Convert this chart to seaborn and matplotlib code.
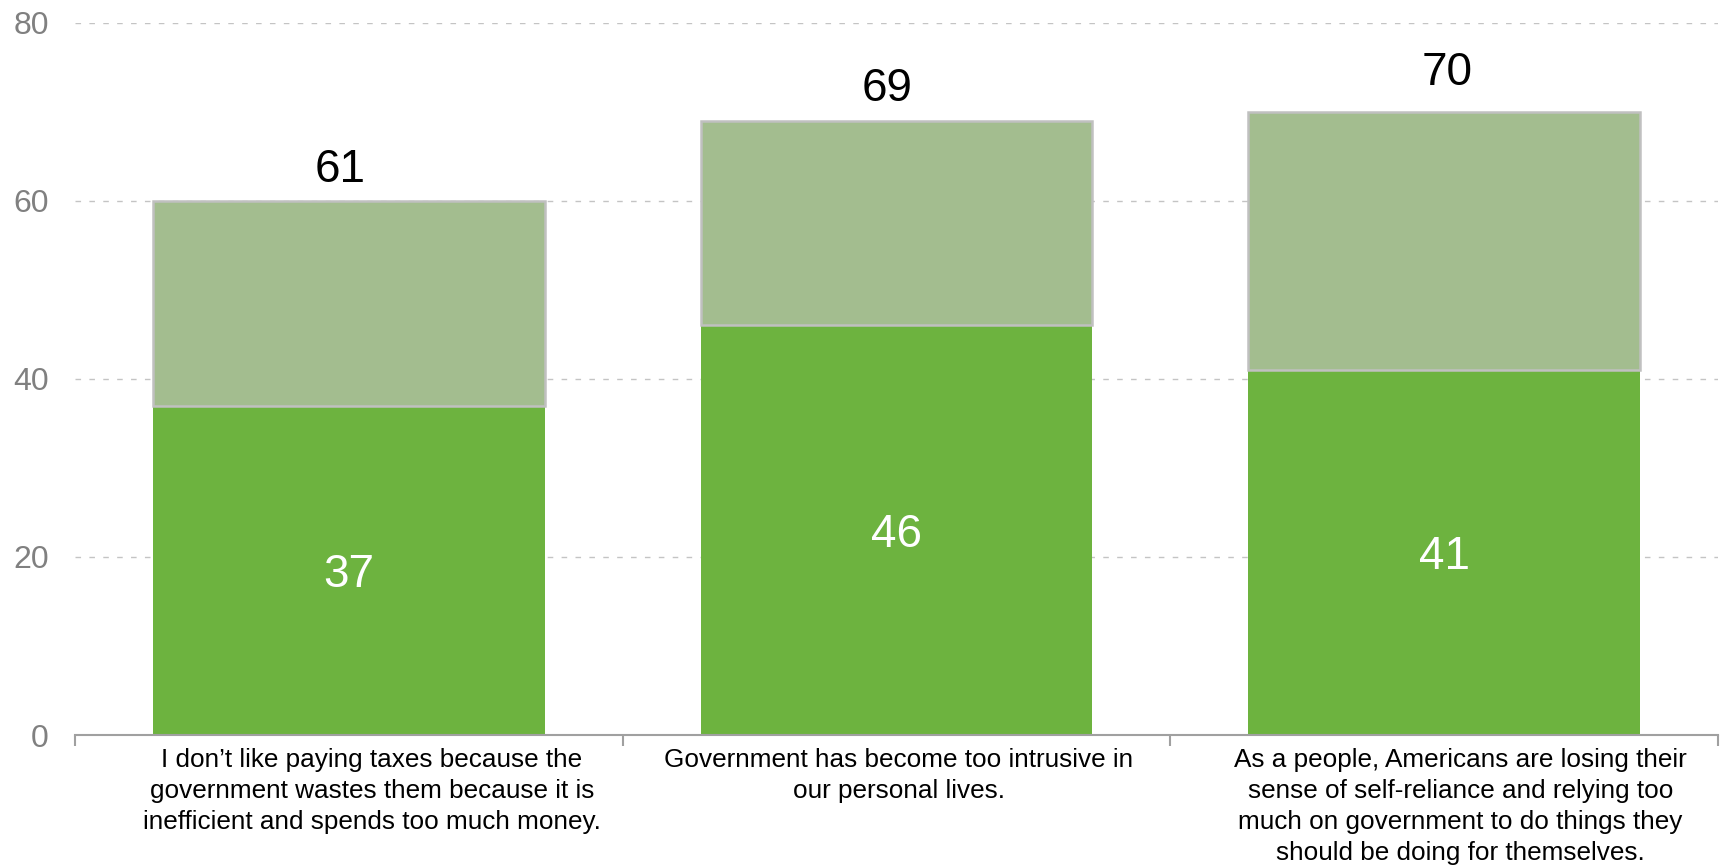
import pandas as pd
import seaborn as sns
import matplotlib.pyplot as plt
from matplotlib.transforms import ScaledTranslation

# data
statements = [
    "I don\u2019t like paying taxes because the\ngovernment wastes them because it is\ninefficient and spends too much money.",
    "Government has become too intrusive in\nour personal lives.",
    "As a people, Americans are losing their\nsense of self-reliance and relying too\nmuch on government to do things they\nshould be doing for themselves.",
]
strongly = [37, 46, 41]          # dark green segment
somewhat = [23, 23, 29]          # light green segment (as drawn)
total_labels = [61, 69, 70]      # numbers printed above the bars

DARK = '#6db33f'
LIGHT = '#a3bd8f'
GREY = '#a0a0a0'


def main():
    df = pd.DataFrame({'statement': statements, 'strongly': strongly, 'somewhat': somewhat})

    sns.set_style('white')
    plt.rcParams['font.family'] = ['Liberation Sans', 'DejaVu Sans']

    fig = plt.figure(figsize=(17.21, 8.68), dpi=100)
    ax = fig.add_axes([0.0436, 0.1532, 0.9547, 0.8206])

    sns.barplot(data=df, x='statement', y='strongly', color=DARK, saturation=1,
                width=0.715, linewidth=0, ax=ax)
    sns.barplot(data=df, x='statement', y='somewhat', color=LIGHT, saturation=1,
                width=0.715, bottom=df['strongly'].values, edgecolor='#c0c0c0',
                linewidth=1.8, ax=ax)

    ax.set_ylim(0, 80)
    ax.set_xlim(-0.5, 2.5)
    ax.set_yticks([0, 20, 40, 60, 80])
    ax.tick_params(axis='y', length=0, labelsize=23, labelcolor='#808080', pad=19)
    ax.yaxis.grid(True, color='#c4c4c4', linestyle=(0, (4, 6)), linewidth=1.0)
    ax.set_axisbelow(True)

    # category labels centred, separator ticks at the boundaries
    ax.set_xticks([0, 1, 2])
    ax.set_xticklabels(statements, fontsize=18.8, color='black')
    ax.set_xticks([-0.5, 0.5, 1.5, 2.5], minor=True)
    ax.tick_params(axis='x', which='major', length=0, pad=9)
    ax.tick_params(axis='x', which='minor', bottom=True, length=8, width=1.5,
                   color=GREY, direction='out')
    for lab, dx in zip(ax.get_xticklabels(), [0.23, 0.02, 0.16]):
        lab.set_linespacing(1.38)
        lab.set_transform(lab.get_transform() + ScaledTranslation(dx, 0, fig.dpi_scale_trans))

    ax.set_xlabel('')
    ax.set_ylabel('')
    for side in ['top', 'right', 'left']:
        ax.spines[side].set_visible(False)
    ax.spines['bottom'].set_color(GREY)
    ax.spines['bottom'].set_linewidth(1.5)

    for i, (dx, up) in enumerate([(-6, 13.5), (-7, 14.5), (2, 19)]):
        ax.annotate(str(strongly[i]), (i, strongly[i] / 2), xytext=(0, -11.8),
                    textcoords='offset points', ha='center', va='baseline',
                    fontsize=33, color='white')
        ax.annotate(str(total_labels[i]), (i, strongly[i] + somewhat[i]), xytext=(dx, up),
                    textcoords='offset points', ha='center', va='baseline',
                    fontsize=33, color='black')

    fig.savefig('out.png', dpi=100)


if __name__ == '__main__':
    main()
